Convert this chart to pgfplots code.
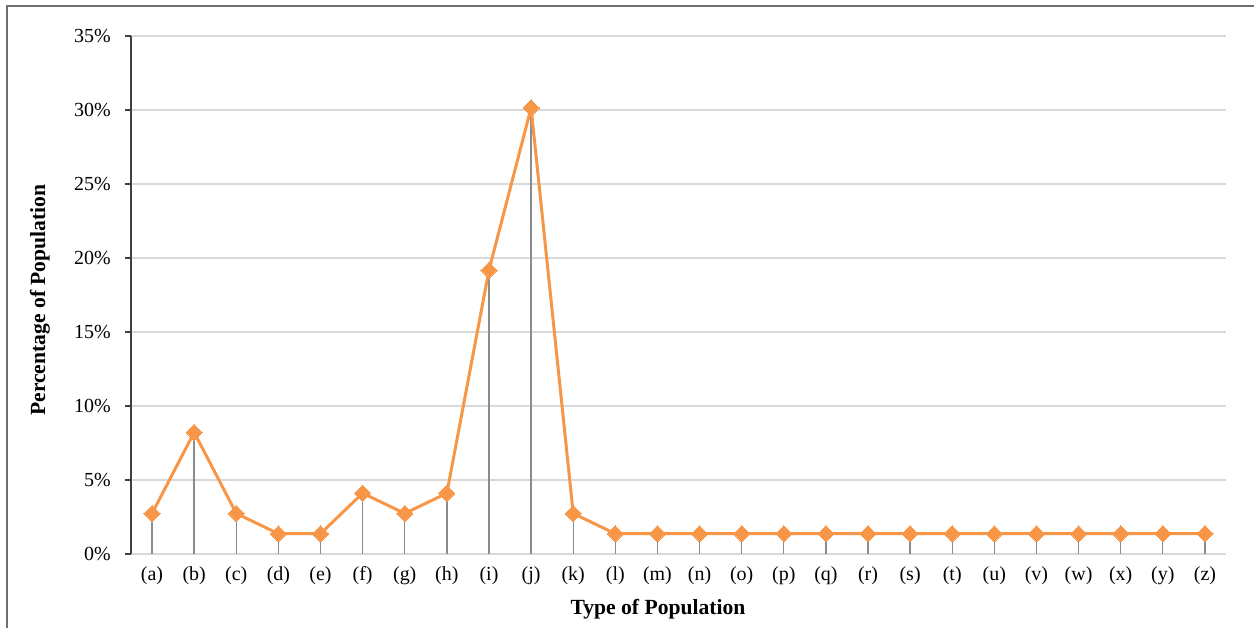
\documentclass[border=0pt]{standalone}
\usepackage{pgfplots}
\pgfplotsset{compat=1.18}
\usepackage{fontspec}
\setmainfont{Liberation Serif}
\definecolor{lineorange}{HTML}{F79646}
\definecolor{gridgray}{HTML}{D9D9D9}
\definecolor{dropgray}{HTML}{8C8C8C}
\definecolor{axgray}{HTML}{404040}
\definecolor{framegray}{HTML}{6F6F6F}
\begin{document}
\begin{tikzpicture}
\begin{axis}[
  at={(0,0)}, anchor=south west,
  scale only axis,
  width=730pt, height=345.33pt,
  xmin=-0.5, xmax=25.5,
  ymin=0, ymax=35,
  axis x line*=bottom, axis y line*=left,
  x axis line style={-, draw=gridgray, line width=1pt},
  y axis line style={-, draw=axgray, line width=0.9pt},
  xtick={0,...,25},
  xticklabels={(a),(b),(c),(d),(e),(f),(g),(h),(i),(j),(k),(l),(m),(n),(o),(p),(q),(r),(s),(t),(u),(v),(w),(x),(y),(z)},
  xtick style={draw=none},
  ytick={0,5,10,15,20,25,30,35},
  yticklabels={0\%,5\%,10\%,15\%,20\%,25\%,30\%,35\%},
  ytick style={draw=axgray, line width=0.9pt},
  tick align=outside,
  major tick length=4pt,
  ymajorgrids,
  grid style={draw=gridgray, line width=0.9pt},
  ticklabel style={font=\fontsize{13.3}{15}\selectfont},
  xticklabel style={yshift=-1pt},
  yticklabel style={xshift=-6pt},
  xlabel={Type of Population},
  ylabel={Percentage of Population},
  label style={font=\fontsize{14.4}{16}\selectfont\bfseries},
  xlabel style={at={(axis description cs:0.4813,-0.1063)}, anchor=center},
  ylabel style={at={(axis description cs:-0.0831,0.4903)}, anchor=center},
  clip=false,
]
\addplot[ycomb, draw=dropgray, line width=0.9pt, no markers] coordinates {
(0,2.74) (1,8.22) (2,2.74) (3,1.37) (4,1.37) (5,4.11) (6,2.74) (7,4.11) (8,19.18) (9,30.14) (10,2.74)
(11,1.37) (12,1.37) (13,1.37) (14,1.37) (15,1.37) (16,1.37) (17,1.37) (18,1.37) (19,1.37) (20,1.37) (21,1.37) (22,1.37) (23,1.37) (24,1.37) (25,1.37)
};
\addplot[draw=lineorange, line width=2pt, mark=square*, mark size=3.8pt,
  mark options={fill=lineorange, draw=lineorange, line width=0pt, rotate=45}] coordinates {
(0,2.74) (1,8.22) (2,2.74) (3,1.37) (4,1.37) (5,4.11) (6,2.74) (7,4.11) (8,19.18) (9,30.14) (10,2.74)
(11,1.37) (12,1.37) (13,1.37) (14,1.37) (15,1.37) (16,1.37) (17,1.37) (18,1.37) (19,1.37) (20,1.37) (21,1.37) (22,1.37) (23,1.37) (24,1.37) (25,1.37)
};
\end{axis}
\draw[framegray, line width=0.8pt] (-82.67pt,-60pt) -- (-82.67pt,365.33pt) -- (760pt,365.33pt);
\pgfresetboundingbox
\useasboundingbox (-87.33pt,-49.33pt) rectangle (748.67pt,369.33pt);
\end{tikzpicture}
\end{document}
